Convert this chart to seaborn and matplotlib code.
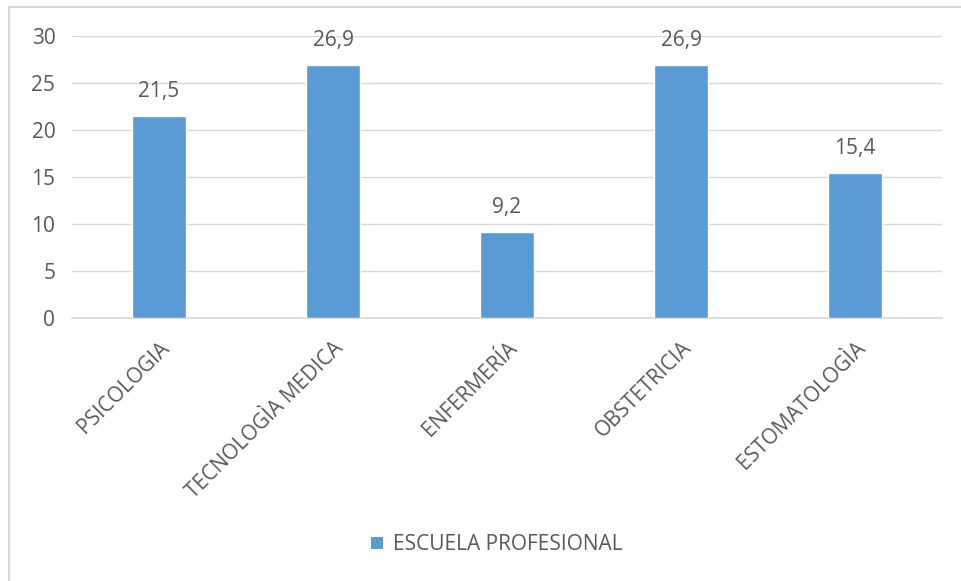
import matplotlib
matplotlib.use("Agg")
import matplotlib.pyplot as plt
import seaborn as sns
import pandas as pd
from matplotlib.lines import Line2D
from matplotlib.patches import Patch

categories = ["PSICOLOGIA", "TECNOLOGÌA MEDICA", "ENFERMERÍA", "OBSTETRICIA", "ESTOMATOLOGÌA"]
values = [21.5, 26.9, 9.2, 26.9, 15.4]
value_labels = ["21,5", "26,9", "9,2", "26,9", "15,4"]
series_name = "ESCUELA PROFESIONAL"
yticks = [0, 5, 10, 15, 20, 25, 30]

sns.set_theme(style="white")
plt.rcParams["font.family"] = ["Open Sans", "DejaVu Sans"]

W, H = 962, 581
FS = 15
fig = plt.figure(figsize=(W / 100, H / 100), dpi=100)
ax = fig.add_axes([72 / W, 1 - 318 / H, (942 - 72) / W, (318 - 36) / H])

df = pd.DataFrame({"cat": categories, "val": values})
bar_color = "#5B9BD5"
text_color = "#595959"
sns.barplot(data=df, x="cat", y="val", color=bar_color, width=0.315, saturation=1, ax=ax, zorder=3)

ax.set_xlim(-0.5, 4.5)
ax.set_ylim(0, 30)
ax.set_yticks(yticks)
ax.set_yticklabels([str(t) for t in yticks], fontsize=FS, color=text_color)
ax.yaxis.grid(True, color="#D9D9D9", linewidth=1)
ax.set_axisbelow(True)
for s in ["left", "right", "top"]:
    ax.spines[s].set_visible(False)
ax.spines["bottom"].set_color("#D9D9D9")
ax.tick_params(axis="both", length=0)
ax.tick_params(axis="y", pad=12)
ax.tick_params(axis="x", pad=14)
ax.set_xlabel("")
ax.set_ylabel("")
ax.set_xticks(range(len(categories)))
ax.set_xticklabels(categories, rotation=45, ha="right", rotation_mode="anchor",
                   fontsize=FS, color=text_color)

for i, (v, lab) in enumerate(zip(values, value_labels)):
    ax.annotate(lab, (i, v), xytext=(0, 10), textcoords="offset points",
                ha="center", va="bottom", fontsize=FS, color=text_color)

handle = Patch(facecolor=bar_color, edgecolor="none")
fig.legend([handle], [series_name], loc="center", bbox_to_anchor=(497 / W, 1 - 545 / H),
           frameon=False, fontsize=FS, labelcolor=text_color, handlelength=0.55,
           handleheight=0.55, handletextpad=0.5)

# outer chart border (top and left visible)
fig.add_artist(Line2D([9 / W, 1.0], [1 - 7 / H, 1 - 7 / H], transform=fig.transFigure,
                      color="#D9D9D9", linewidth=1.5))
fig.add_artist(Line2D([9 / W, 9 / W], [0, 1 - 7 / H], transform=fig.transFigure,
                      color="#D9D9D9", linewidth=1.5))

fig.savefig("out.png", dpi=100, facecolor="white")
